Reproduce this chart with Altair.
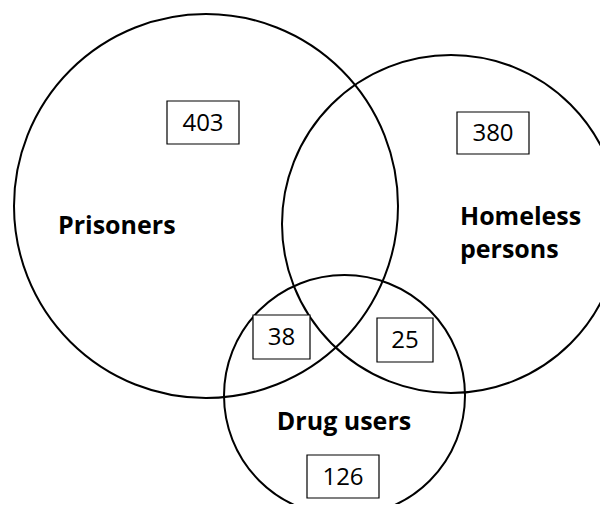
import altair as alt
import pandas as pd

# Circles (reference pixel coordinates)
circle_names = ["Prisoners", "Homeless persons", "Drug users"]
circle_cx = [206, 451, 344.5]
circle_cy = [206, 224, 395.5]
circle_r = [192, 169, 120.5]

# Count boxes
box_values = ["403", "380", "38", "25", "126"]
box_x1 = [167, 457, 253, 377, 307]
box_x2 = [239, 529, 310, 433, 379]
box_y1 = [101, 112, 315, 318, 455]
box_y2 = [144, 154, 359, 362, 498]

# Set labels
label_text = ["Prisoners", "Homeless", "persons", "Drug users"]
label_x = [58, 460, 460, 344]
label_y = [234, 225, 258, 430]
label_align = ["left", "left", "left", "center"]

circles = pd.DataFrame({
    "name": circle_names,
    "cx": circle_cx,
    "cy": circle_cy,
    "size": [(2 * r) ** 2 for r in circle_r],
})
boxes = pd.DataFrame({
    "value": box_values,
    "x1": box_x1, "x2": box_x2, "y1": box_y1, "y2": box_y2,
    "xc": [(a + b) / 2 for a, b in zip(box_x1, box_x2)],
    "yc": [(a + b) / 2 for a, b in zip(box_y1, box_y2)],
})
labels = pd.DataFrame({"text": label_text, "x": label_x, "y": label_y, "align": label_align})

xs = alt.Scale(domain=[8, 600])
ys = alt.Scale(domain=[8, 504], reverse=True)

circ = alt.Chart(circles).mark_point(
    shape="circle", filled=False, stroke="black", strokeWidth=2, opacity=1, clip=True
).encode(
    x=alt.X("cx:Q", scale=xs, axis=None),
    y=alt.Y("cy:Q", scale=ys, axis=None),
    size=alt.Size("size:Q", scale=None, legend=None),
)

rects = alt.Chart(boxes).mark_rect(
    fill="white", stroke="black", strokeWidth=1.2
).encode(
    x=alt.X("x1:Q", scale=xs, axis=None), x2="x2:Q",
    y=alt.Y("y1:Q", scale=ys, axis=None), y2="y2:Q",
)

nums = alt.Chart(boxes).mark_text(
    font="Open Sans", fontSize=24, color="black", align="center", baseline="middle", dy=1
).encode(
    x=alt.X("xc:Q", scale=xs, axis=None),
    y=alt.Y("yc:Q", scale=ys, axis=None),
    text="value:N",
)

def lab(align):
    return alt.Chart(labels[labels["align"] == align]).mark_text(
        font="Open Sans", fontSize=25, fontWeight="bold", color="black",
        align=align, baseline="alphabetic"
    ).encode(
        x=alt.X("x:Q", scale=xs, axis=None),
        y=alt.Y("y:Q", scale=ys, axis=None),
        text="text:N",
    )

chart = alt.layer(circ, rects, nums, lab("left"), lab("center")).properties(
    width=592, height=496, padding=0, background="white",
    autosize=alt.AutoSizeParams(type="none")
).configure_view(stroke=None)

chart.save("out.html", embed_options={"renderer": "svg", "actions": False})
